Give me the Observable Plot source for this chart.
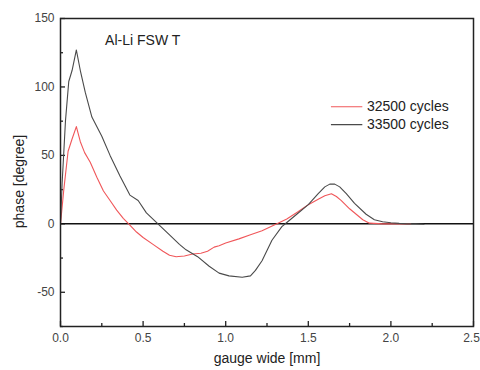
<!DOCTYPE html>
<html>
<head>
<meta charset="utf-8">
<script src="https://cdn.jsdelivr.net/npm/d3@7"></script>
<script src="https://cdn.jsdelivr.net/npm/@observablehq/plot@0.6"></script>
<style>
  html, body { margin: 0; padding: 0; background: #fff; }
  #chart svg { display: block; }
</style>
</head>
<body>
<div id="chart"></div>
<script>
// Series: 32500 cycles (red)
const xRed = [0, 0.02, 0.046, 0.07, 0.096, 0.12, 0.146, 0.18, 0.22, 0.26, 0.3, 0.34, 0.38, 0.42, 0.46, 0.5, 0.56, 0.62, 0.66, 0.7, 0.75, 0.8, 0.85, 0.89, 0.93, 0.96, 1.0, 1.08, 1.15, 1.22, 1.31, 1.37, 1.44, 1.5, 1.56, 1.6, 1.64, 1.67, 1.7, 1.75, 1.79, 1.83, 1.87, 1.95, 2.05, 2.12];
const yRed = [0, 25, 53, 62, 71, 60, 52, 45, 34, 24, 17, 10, 4, -1, -6, -10, -15, -20, -23, -24, -23.5, -22, -21.5, -20, -17, -16, -14, -11, -8, -5, 0, 3.5, 9, 14, 18, 20.5, 22, 20, 17, 11, 7, 3, 0.5, 0, 0, 0];
// Series: 33500 cycles (black)
const xBlack = [0, 0.01, 0.03, 0.05, 0.07, 0.096, 0.12, 0.15, 0.19, 0.25, 0.3, 0.36, 0.42, 0.47, 0.52, 0.59, 0.66, 0.72, 0.76, 0.83, 0.9, 0.96, 1.02, 1.1, 1.15, 1.18, 1.22, 1.28, 1.34, 1.37, 1.43, 1.5, 1.56, 1.6, 1.63, 1.66, 1.69, 1.73, 1.78, 1.85, 1.9, 1.95, 2.0, 2.05, 2.1, 2.15, 2.2];
const yBlack = [0, 30, 75, 104, 112, 127, 112, 96, 78, 64, 50, 35, 21, 17, 8, 0, -8, -15, -19, -24, -31, -36, -38, -39, -38, -34, -27, -12, -2, 1, 7, 14, 22, 27, 29, 29, 27, 22, 15, 7, 3, 1.5, 0.8, 0.3, 0, 0, -0.3];
const seriesNames = ["32500 cycles", "33500 cycles"];
const seriesColors = ["#f0575a", "#4a4a4a"];

const xMajor = [0, 0.5, 1.0, 1.5, 2.0, 2.5];
const xMinor = [0.25, 0.75, 1.25, 1.75, 2.25];
const yMajor = [-50, 0, 50, 100, 150];
const yMinor = [-75, -25, 25, 75, 125];

const title = "Al-Li FSW T";
const xLabel = "gauge wide [mm]";
const yLabel = "phase [degree]";

const W = 480, H = 370;
const mL = 60, mR = 7, mT = 18, mB = 44;
const pw = W - mL - mR, ph = H - mT - mB;

const red = xRed.map((x, i) => ({x, y: yRed[i], s: seriesNames[0]}));
const black = xBlack.map((x, i) => ({x, y: yBlack[i], s: seriesNames[1]}));
const legend = [
  {s: seriesNames[0], c: seriesColors[0], y: 85.5},
  {s: seriesNames[1], c: seriesColors[1], y: 72.5}
];

const font = "Liberation Sans, Arial, sans-serif";
const lastX = xMajor[xMajor.length - 1];

const chart = Plot.plot({
  width: W,
  height: H,
  marginLeft: mL,
  marginRight: mR,
  marginTop: mT,
  marginBottom: mB,
  style: {fontFamily: font, background: "#fff", color: "#333"},
  x: {domain: [0, 2.5]},
  y: {domain: [-75, 150]},
  marks: [
    Plot.axisX({ticks: xMajor.slice(0, -1), tickSize: 0, tickPadding: 7, tickFormat: d => d.toFixed(1), fontSize: 12, label: null, fill: "#444"}),
    Plot.axisX({ticks: [lastX], tickSize: 0, tickPadding: 7, tickFormat: d => d.toFixed(1), fontSize: 12, label: null, fill: "#444", dx: -2}),
    Plot.axisY({ticks: yMajor, tickSize: 0, tickPadding: 6, tickFormat: d => String(d), fontSize: 12, label: null, fill: "#444"}),
    // inward ticks
    Plot.tickX(xMajor, {x: d => d, insetTop: ph - 5, stroke: "#222", strokeWidth: 1.3}),
    Plot.tickX(xMinor, {x: d => d, insetTop: ph - 3, stroke: "#222", strokeWidth: 1.3}),
    Plot.tickY(yMajor, {y: d => d, insetRight: pw - 5, stroke: "#222", strokeWidth: 1.3}),
    Plot.tickY(yMinor, {y: d => d, insetRight: pw - 3, stroke: "#222", strokeWidth: 1.3}),
    Plot.ruleY([0], {stroke: "#111", strokeWidth: 1.5}),
    Plot.line(red, {x: "x", y: "y", stroke: seriesColors[0], strokeWidth: 1.1}),
    Plot.line(black, {x: "x", y: "y", stroke: seriesColors[1], strokeWidth: 1.1}),
    Plot.frame({stroke: "#222", strokeWidth: 1.5}),
    // title
    Plot.text([title], {x: 0.27, y: 134, text: d => d, textAnchor: "start", fontSize: 14, fill: "#222"}),
    // legend
    Plot.ruleY(legend, {y: "y", x1: 1.64, x2: 1.83, stroke: "c", strokeWidth: 1.1}),
    Plot.text(legend, {y: "y", x: 1.855, text: "s", textAnchor: "start", fontSize: 14, fill: "#222"}),
    // axis labels
    Plot.text([xLabel], {frameAnchor: "bottom", dy: 36, text: d => d, fontSize: 14, fill: "#222"}),
    Plot.text([yLabel], {frameAnchor: "left", dx: -41, dy: 9, rotate: -90, textAnchor: "middle", text: d => d, fontSize: 14, fill: "#222"})
  ]
});
document.getElementById("chart").appendChild(chart);
</script>
</body>
</html>
